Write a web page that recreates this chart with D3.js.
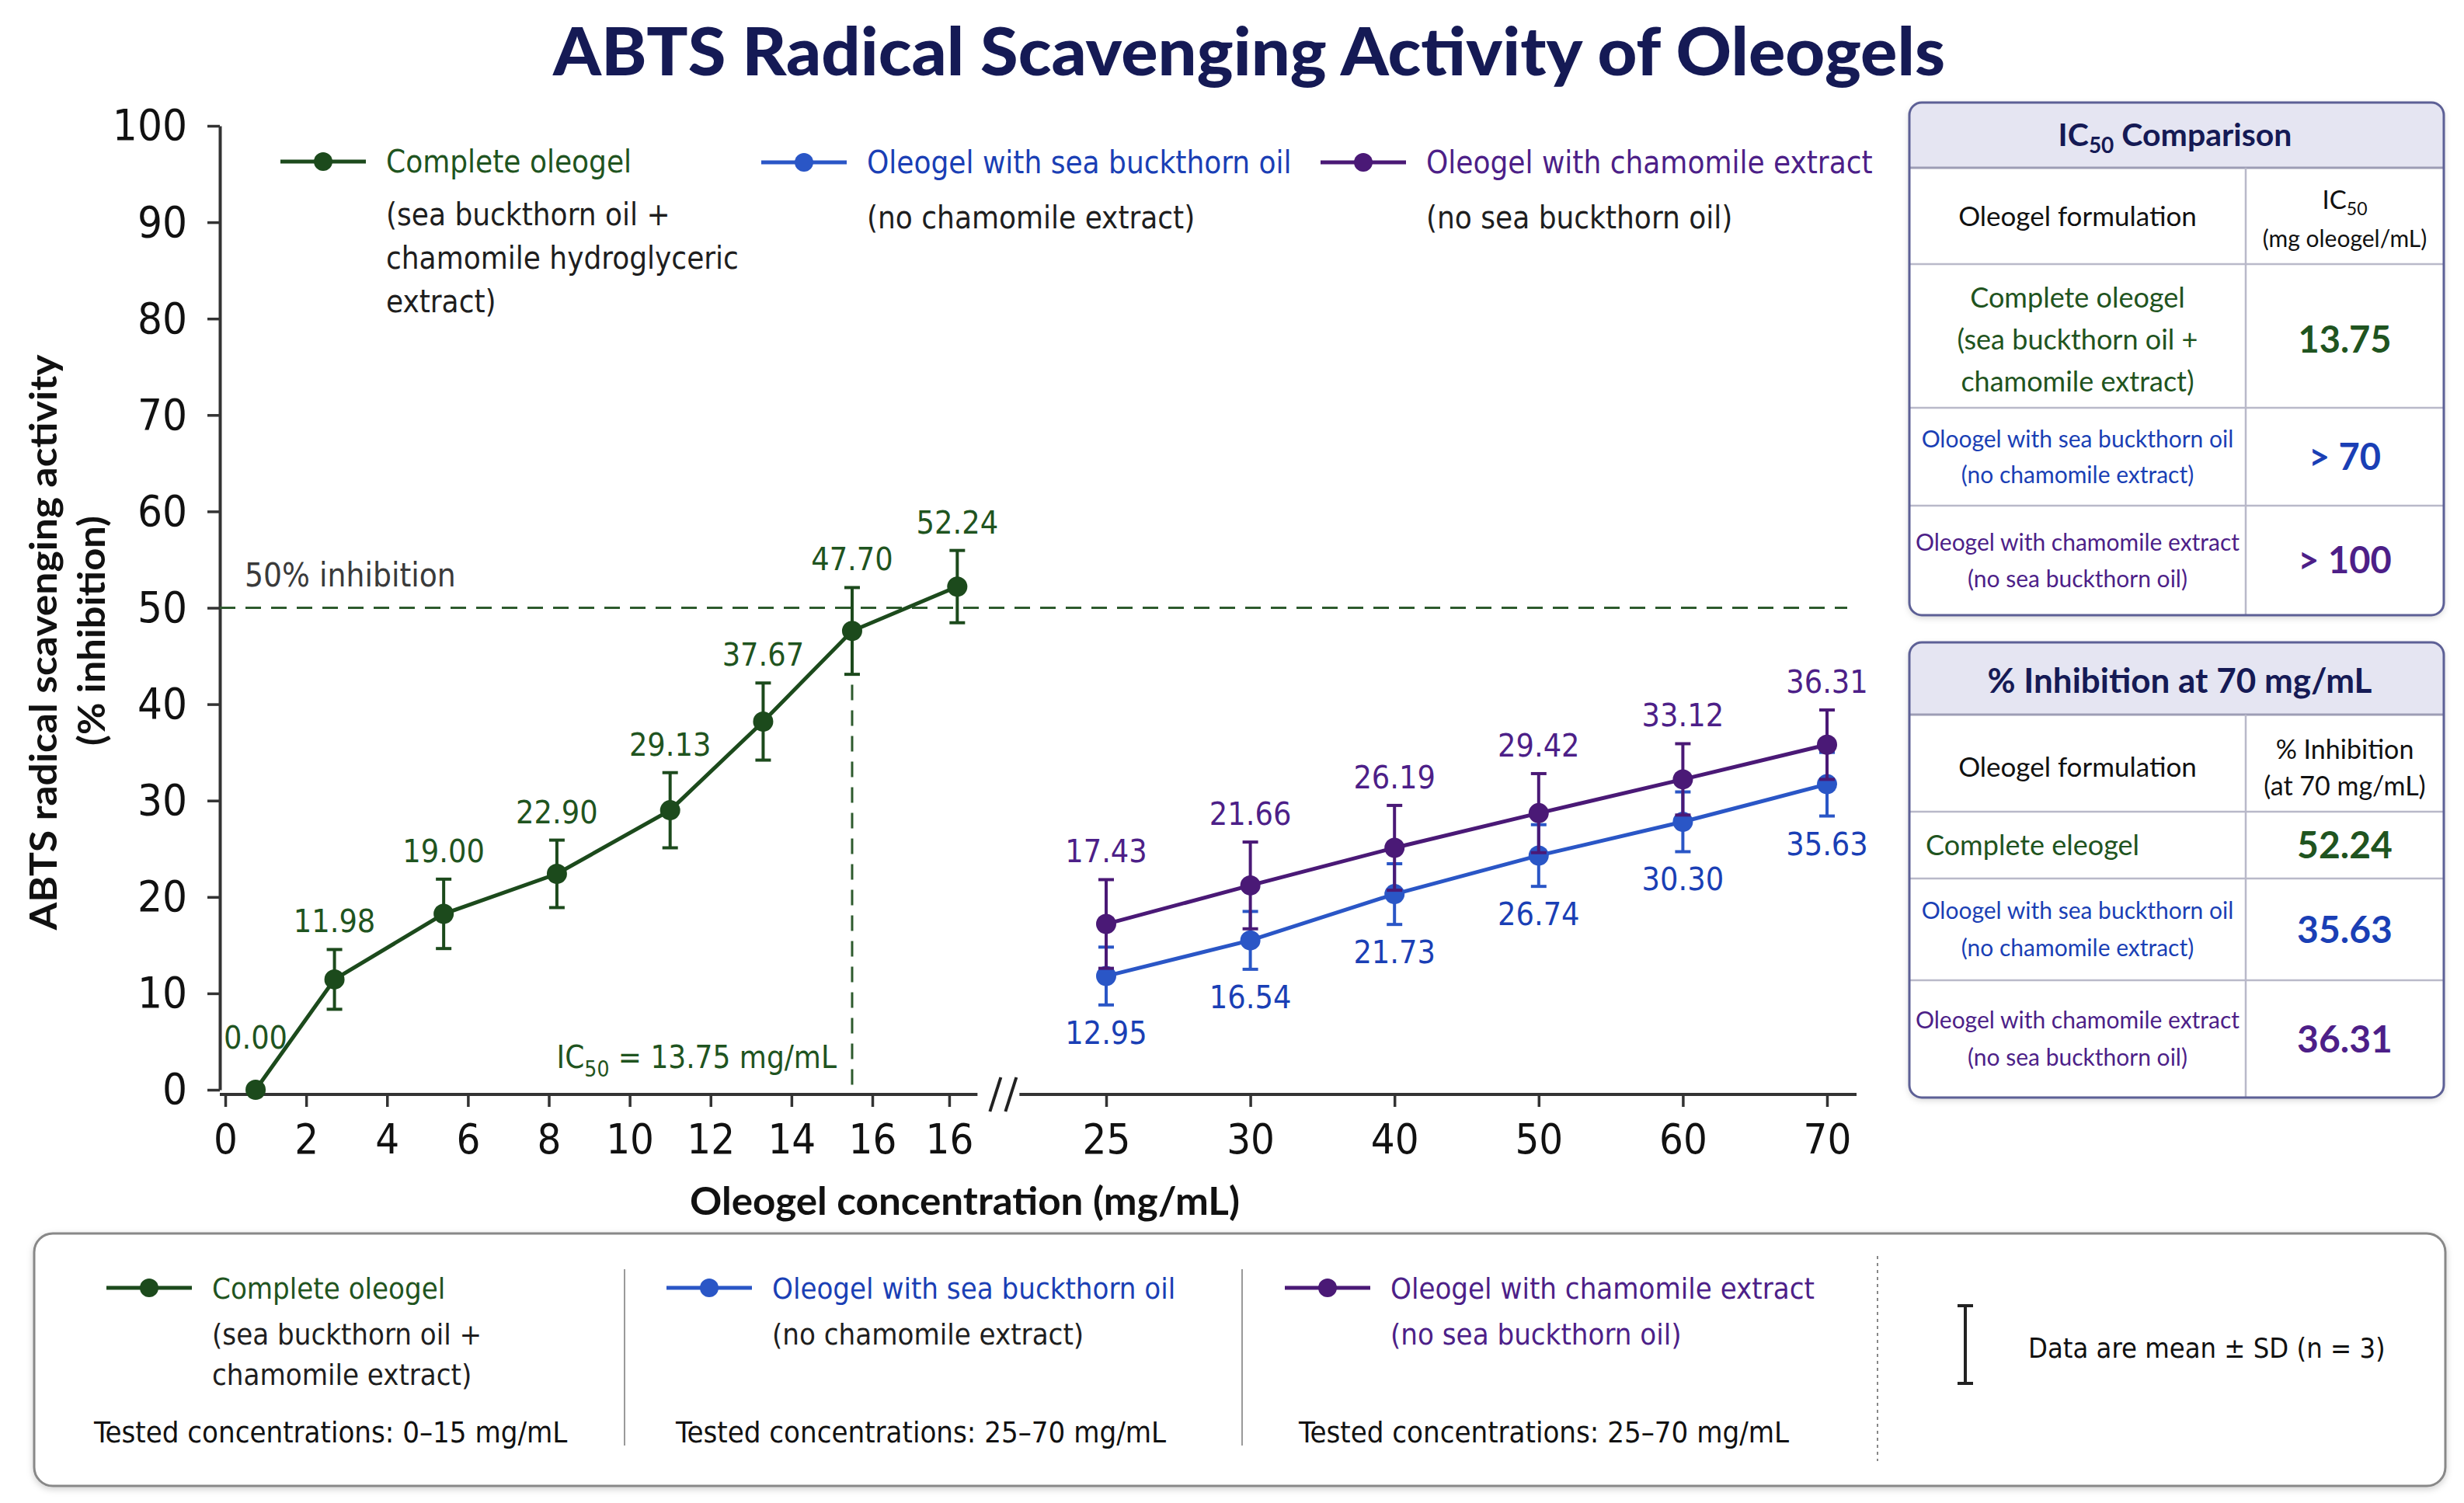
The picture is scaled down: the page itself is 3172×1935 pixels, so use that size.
<!DOCTYPE html>
<html><head><meta charset="utf-8">
<script src="https://cdn.jsdelivr.net/npm/d3@7"></script>
<style>
html,body{margin:0;padding:0;background:#fff;}
svg{display:block;}
.nar{font-family:"Liberation Sans Narrow","Arial Narrow","DejaVu Sans Condensed",sans-serif;}
.lat{font-family:Lato,"Open Sans",sans-serif;}
</style></head><body>
<svg id="c" width="3172" height="1935"></svg>
<script>
// ---------------- DATA ----------------
const leftConcentrations = [0.75, 2.7, 5.4, 8.2, 11.0, 13.3, 15.5, 18.1];
const completeValues = [0, 11.45, 18.25, 22.4, 29.0, 38.2, 47.6, 52.2];
const completeSD = [0, 3.1, 3.6, 3.5, 3.9, 4.0, 4.5, 3.75];
const completeLabels = ["0.00","11.98","19.00","22.90","29.13","37.67","47.70","52.24"];

const rightConcentrations = ["25","30","40","50","60","70"];
const seaBuckthornValues = [11.8, 15.5, 20.3, 24.3, 27.8, 31.7];
const seaBuckthornSD = [3.0, 3.0, 3.15, 3.2, 3.1, 3.3];
const seaBuckthornLabels = ["12.95","16.54","21.73","26.74","30.30","35.63"];
const chamomileValues = [17.2, 21.2, 25.1, 28.7, 32.2, 35.8];
const chamomileSD = [4.6, 4.5, 4.4, 4.1, 3.7, 3.6];
const chamomileLabels = ["17.43","21.66","26.19","29.42","33.12","36.31"];

const yTickValues = [0,10,20,30,40,50,60,70,80,90,100];
const xTickValuesLeft = [0,2,4,6,8,10,12,14,16,17.9];
const xTickLabelsLeft = ["0","2","4","6","8","10","12","14","16","16"];

const inhibitionThreshold = 50;
const ic50Text = "13.75";
const ic50GuideConcentration = 15.5;

const seriesNames = ["Complete oleogel","Oleogel with sea buckthorn oil","Oleogel with chamomile extract"];
const topLegendSub = [["(sea buckthorn oil +","chamomile hydroglyceric","extract)"],["(no chamomile extract)"],["(no sea buckthorn oil)"]];
const bottomLegendSub = [["(sea buckthorn oil +","chamomile extract)"],["(no chamomile extract)"],["(no sea buckthorn oil)"]];
const testedRanges = ["Tested concentrations: 0\u201315 mg/mL","Tested concentrations: 25\u201370 mg/mL","Tested concentrations: 25\u201370 mg/mL"];

const ic50TableNames = [["Complete oleogel","(sea buckthorn oil +","chamomile extract)"],["Oloogel with sea buckthorn oil","(no chamomile extract)"],["Oleogel with chamomile extract","(no sea buckthorn oil)"]];
const ic50TableValues = ["13.75","> 70","> 100"];
const inhTableNames = [["Complete eleogel"],["Oloogel with sea buckthorn oil","(no chamomile extract)"],["Oleogel with chamomile extract","(no sea buckthorn oil)"]];
const inhTableValues = ["52.24","35.63","36.31"];

// ---------------- STYLE ----------------
const C = {
  green:"#1c4a1c", greenT:"#1f5420",
  blue:"#2a56c6", blueT:"#1a3fb5",
  purple:"#4a1976", purpleT:"#4d1f88",
  navy:"#151a55", axis:"#333", text:"#1e1e1e"
};
const seriesColors = [C.green, C.blue, C.purple];
const seriesTextColors = [C.greenT, C.blueT, C.purpleT];

const svg = d3.select("#c");

const defs = svg.append("defs");
const f = defs.append("filter").attr("id","sh").attr("x","-5%").attr("y","-5%").attr("width","110%").attr("height","115%");
f.append("feDropShadow").attr("dx",0).attr("dy",3).attr("stdDeviation",4).attr("flood-color","#000").attr("flood-opacity",0.18);

// ---------------- TITLE ----------------
svg.append("text").attr("class","lat").attr("x",1608).attr("y",97)
  .attr("text-anchor","middle").attr("font-size",86).attr("font-weight",900)
  .attr("fill",C.navy).attr("textLength",1792).attr("lengthAdjust","spacingAndGlyphs")
  .text("ABTS Radical Scavenging Activity of Oleogels");

// ---------------- SCALES ----------------
const y = d3.scaleLinear().domain([0,100]).range([1403,162]);
const xL = d3.scaleLinear().domain([0,16]).range([290,1123]);
const xR = d3.scalePoint().domain(rightConcentrations).range([1424,2352]);
const yAxisX = 283;

const plot = svg.append("g");

// y axis
const yAx = plot.append("g").attr("transform",`translate(${yAxisX},0)`)
  .call(d3.axisLeft(y).tickValues(yTickValues).tickSize(16).tickSizeOuter(0).tickPadding(26));
yAx.select(".domain").attr("stroke",C.axis).attr("stroke-width",4);
yAx.selectAll(".tick line").attr("stroke",C.axis).attr("stroke-width",3.5);
yAx.selectAll(".tick text").attr("class","nar").attr("font-size",56).attr("fill","#111");

// x axis left
const axisY = y(0)+6;
const xAxL = plot.append("g").attr("transform",`translate(0,${axisY})`)
  .call(d3.axisBottom(xL).tickValues(xTickValuesLeft).tickFormat((d,i)=>xTickLabelsLeft[i]).tickSize(16).tickPadding(22));
xAxL.select(".domain").remove();
xAxL.selectAll(".tick line").attr("stroke",C.axis).attr("stroke-width",3.5);
xAxL.selectAll(".tick text").attr("class","nar").attr("font-size",54).attr("fill","#111");
plot.append("line").attr("x1",yAxisX).attr("x2",xL(18.6)).attr("y1",axisY).attr("y2",axisY).attr("stroke",C.axis).attr("stroke-width",4);

// x axis right
const xAxR = plot.append("g").attr("transform",`translate(0,${axisY})`)
  .call(d3.axisBottom(xR).tickSize(16).tickPadding(22));
xAxR.select(".domain").remove();
xAxR.selectAll(".tick line").attr("stroke",C.axis).attr("stroke-width",3.5);
xAxR.selectAll(".tick text").attr("class","nar").attr("font-size",54).attr("fill","#111");
const rStart = xL(18.6)+54, rEnd = xR("70")+38;
plot.append("line").attr("x1",rStart).attr("x2",rEnd).attr("y1",axisY).attr("y2",axisY).attr("stroke",C.axis).attr("stroke-width",4);

// axis break //
[0,20].forEach(o=>{
  plot.append("line").attr("x1",xL(18.6)+16+o).attr("y1",axisY+22).attr("x2",xL(18.6)+30+o).attr("y2",axisY-22)
    .attr("stroke","#222").attr("stroke-width",4);
});

// axis titles
svg.append("text").attr("class","lat").attr("x",1242).attr("y",1564).attr("text-anchor","middle")
  .attr("font-size",50).attr("font-weight",700).attr("fill","#111")
  .attr("textLength",708).attr("lengthAdjust","spacingAndGlyphs").text("Oleogel concentration (mg/mL)");
svg.append("text").attr("class","lat").attr("transform","translate(54,827) rotate(-90)").attr("text-anchor","middle")
  .attr("dominant-baseline","central").attr("font-size",48).attr("font-weight",700).attr("fill","#111")
  .attr("textLength",741).attr("lengthAdjust","spacingAndGlyphs")
  .text("ABTS radical scavenging activity");
svg.append("text").attr("class","lat").attr("transform","translate(116,812) rotate(-90)").attr("text-anchor","middle")
  .attr("dominant-baseline","central").attr("font-size",48).attr("font-weight",700).attr("fill","#111")
  .attr("textLength",296).attr("lengthAdjust","spacingAndGlyphs")
  .text("(% inhibition)");

// ---------------- REFERENCE LINES ----------------
plot.append("line").attr("x1",yAxisX).attr("x2",2378).attr("y1",y(inhibitionThreshold)).attr("y2",y(inhibitionThreshold))
  .attr("stroke","#2d5a2d").attr("stroke-width",3).attr("stroke-dasharray","20 13");
plot.append("line").attr("x1",xL(ic50GuideConcentration)).attr("x2",xL(ic50GuideConcentration))
  .attr("y1",y(inhibitionThreshold)).attr("y2",axisY)
  .attr("stroke","#2d5a2d").attr("stroke-width",3).attr("stroke-dasharray","20 13");
svg.append("text").attr("class","nar").attr("x",315).attr("y",755).attr("font-size",42).attr("fill","#3a3a3a")
  .text(inhibitionThreshold + "% inhibition");
const ic = svg.append("text").attr("class","nar").attr("x",xL(ic50GuideConcentration)-20).attr("y",1375)
  .attr("text-anchor","end").attr("font-size",40).attr("fill",C.greenT);
ic.append("tspan").text("IC");
ic.append("tspan").attr("font-size",28).attr("dy",11).text("50");
ic.append("tspan").attr("dy",-11).text(" = " + ic50Text + " mg/mL");

// ---------------- SERIES ----------------
function drawSeries(xs, xFn, vals, sds, labels, color, tcolor, below){
  const g = plot.append("g");
  const pts = xs.map((c,i)=>({x:xFn(c), v:vals[i], sd:sds[i], lab:labels[i]}));
  pts.forEach(p=>{
    if(p.sd<=0) return;
    g.append("line").attr("x1",p.x).attr("x2",p.x).attr("y1",y(p.v+p.sd)).attr("y2",y(p.v-p.sd)).attr("stroke",color).attr("stroke-width",4);
    [p.v+p.sd,p.v-p.sd].forEach(e=>g.append("line").attr("x1",p.x-10).attr("x2",p.x+10).attr("y1",y(e)).attr("y2",y(e)).attr("stroke",color).attr("stroke-width",4));
  });
  g.append("path").datum(pts).attr("fill","none").attr("stroke",color).attr("stroke-width",5)
    .attr("d",d3.line().x(d=>d.x).y(d=>y(d.v)));
  g.selectAll("circle").data(pts).join("circle").attr("cx",d=>d.x).attr("cy",d=>y(d.v)).attr("r",13).attr("fill",color);
  g.selectAll("text").data(pts).join("text").attr("class","nar").attr("x",d=>d.x)
    .attr("y",d=> below ? y(d.v-d.sd)+50 : y(d.v+Math.max(d.sd,2.5))-22)
    .attr("text-anchor","middle").attr("font-size",41).attr("fill",tcolor).text(d=>d.lab);
}
drawSeries(leftConcentrations, xL, completeValues, completeSD, completeLabels, C.green, C.greenT, false);
drawSeries(rightConcentrations, xR, seaBuckthornValues, seaBuckthornSD, seaBuckthornLabels, C.blue, C.blueT, true);
drawSeries(rightConcentrations, xR, chamomileValues, chamomileSD, chamomileLabels, C.purple, C.purpleT, false);

// ---------------- LEGENDS ----------------
function legendItem(parent, x, yc, i, subs, subColor, fs, firstGap, gap){
  const g = parent.append("g");
  g.append("line").attr("x1",x).attr("x2",x+110).attr("y1",yc).attr("y2",yc).attr("stroke",seriesColors[i]).attr("stroke-width",5);
  g.append("circle").attr("cx",x+55).attr("cy",yc).attr("r",12).attr("fill",seriesColors[i]);
  g.append("text").attr("class","nar").attr("x",x+136).attr("y",yc+14).attr("font-size",fs).attr("fill",seriesTextColors[i]).text(seriesNames[i]);
  subs.forEach((s,k)=>g.append("text").attr("class","nar").attr("x",x+136).attr("y",yc+14+firstGap+k*gap)
    .attr("font-size",fs).attr("fill",subColor).text(s));
}
const topLeg = svg.append("g");
legendItem(topLeg, 361, 208, 0, topLegendSub[0], C.text, 40, 68, 56);
legendItem(topLeg, 980, 209, 1, topLegendSub[1], C.text, 40, 71, 56);
legendItem(topLeg, 1700, 209, 2, topLegendSub[2], C.text, 40, 71, 56);

// ---------------- TABLES ----------------
function table(x0,y0,x1,y1,hBot,rowLines,divX,id){
  const g = svg.append("g");
  const cp = defs.append("clipPath").attr("id",id);
  cp.append("rect").attr("x",x0).attr("y",y0).attr("width",x1-x0).attr("height",y1-y0).attr("rx",16);
  g.append("rect").attr("x",x0).attr("y",y0).attr("width",x1-x0).attr("height",y1-y0).attr("rx",16).attr("fill","#fff").attr("filter","url(#sh)");
  const inner = g.append("g").attr("clip-path",`url(#${id})`);
  inner.append("rect").attr("x",x0).attr("y",y0).attr("width",x1-x0).attr("height",hBot-y0).attr("fill","#e5e5f2");
  inner.append("line").attr("x1",x0).attr("x2",x1).attr("y1",hBot).attr("y2",hBot).attr("stroke","#9d9db5").attr("stroke-width",3);
  rowLines.forEach(r=>inner.append("line").attr("x1",x0).attr("x2",x1).attr("y1",r).attr("y2",r).attr("stroke","#b9b9c9").attr("stroke-width",2.5));
  inner.append("line").attr("x1",divX).attr("x2",divX).attr("y1",hBot).attr("y2",y1).attr("stroke","#b9b9c9").attr("stroke-width",2.5);
  g.append("rect").attr("x",x0).attr("y",y0).attr("width",x1-x0).attr("height",y1-y0).attr("rx",16).attr("fill","none").attr("stroke","#5d6096").attr("stroke-width",3);
  return g;
}
function lines(g, x, yc, arr, fs, color, lh, anchor, weight){
  const n = arr.length;
  arr.forEach((s,k)=>g.append("text").attr("class","lat").attr("x",x).attr("y",yc+(k-(n-1)/2)*lh+fs*0.36)
    .attr("text-anchor",anchor||"middle").attr("font-size",fs).attr("font-weight",weight||400).attr("fill",color).text(s));
}
const col1 = (2458+2891)/2, col2 = (2891+3146)/2;
// Table 1
const t1 = table(2458,132,3146,792,216,[340,525,651],2891,"cp1");
const t1t = t1.append("text").attr("class","lat").attr("x",2800).attr("y",188).attr("text-anchor","middle")
  .attr("font-size",41).attr("font-weight",700).attr("fill",C.navy);
t1t.append("tspan").text("IC");
t1t.append("tspan").attr("font-size",28).attr("dy",9).text("50");
t1t.append("tspan").attr("dy",-9).text(" Comparison");
lines(t1, col1, 278, ["Oleogel formulation"], 35, "#111", 0);
const h2 = t1.append("text").attr("class","lat").attr("x",col2).attr("y",269).attr("text-anchor","middle").attr("font-size",33).attr("fill","#111");
h2.append("tspan").text("IC");
h2.append("tspan").attr("font-size",23).attr("dy",8).text("50");
lines(t1, col2, 307, ["(mg oleogel/mL)"], 30, "#111", 0);
const rowC1 = [(340+525)/2+5, (525+651)/2, (651+792)/2];
lines(t1, col1, rowC1[0], ic50TableNames[0], 36, C.greenT, 54);
lines(t1, col1, rowC1[1], ic50TableNames[1], 30, C.blueT, 46);
lines(t1, col1, rowC1[2], ic50TableNames[2], 30, C.purpleT, 47);
ic50TableValues.forEach((v,i)=>lines(t1, col2, rowC1[i], [v], 47, seriesTextColors[i], 0, "middle", 700));

// Table 2
const t2 = table(2458,827,3146,1413,920,[1045,1131,1262],2891,"cp2");
lines(t2, 2806, 876, ["% Inhibition at 70 mg/mL"], 44, C.navy, 0, "middle", 700);
lines(t2, col1, 987, ["Oleogel formulation"], 35, "#111", 0);
lines(t2, col2, 988, ["% Inhibition","(at 70 mg/mL)"], 34, "#111", 47);
const rowC2 = [(1045+1131)/2, (1131+1262)/2, (1262+1413)/2];
lines(t2, 2479, rowC2[0], inhTableNames[0], 36, C.greenT, 0, "start");
lines(t2, col1, rowC2[1], inhTableNames[1], 30, C.blueT, 48);
lines(t2, col1, rowC2[2], inhTableNames[2], 30, C.purpleT, 48);
inhTableValues.forEach((v,i)=>lines(t2, col2, rowC2[i], [v], 48, seriesTextColors[i], 0, "middle", 700));

// ---------------- BOTTOM LEGEND ----------------
const bl = svg.append("g");
bl.append("rect").attr("x",44).attr("y",1588).attr("width",3104).attr("height",325).attr("rx",24)
  .attr("fill","#fff").attr("stroke","#888").attr("stroke-width",3).attr("filter","url(#sh)");
const bItems = [{x:137,tx:121},{x:858,tx:870},{x:1654,tx:1672}];
bItems.forEach((b,i)=>{
  const subColor = i===2 ? C.purpleT : C.text;
  legendItem(bl, b.x, 1658, i, bottomLegendSub[i], subColor, 38, 59, 52);
  bl.append("text").attr("class","nar").attr("x",b.tx).attr("y",1857).attr("font-size",38).attr("fill","#111").text(testedRanges[i]);
});
[804,1599].forEach(x=>bl.append("line").attr("x1",x).attr("x2",x).attr("y1",1634).attr("y2",1861).attr("stroke","#9a9a9a").attr("stroke-width",2));
bl.append("line").attr("x1",2417).attr("x2",2417).attr("y1",1617).attr("y2",1881).attr("stroke","#888").attr("stroke-width",2).attr("stroke-dasharray","4 5");
bl.append("line").attr("x1",2530).attr("x2",2530).attr("y1",1681).attr("y2",1781).attr("stroke","#222").attr("stroke-width",4);
[1681,1781].forEach(v=>bl.append("line").attr("x1",2520).attr("x2",2540).attr("y1",v).attr("y2",v).attr("stroke","#222").attr("stroke-width",4));
bl.append("text").attr("class","nar").attr("x",2611).attr("y",1748).attr("font-size",36).attr("fill","#111").text("Data are mean \u00b1 SD (n = 3)");
</script></body></html>
